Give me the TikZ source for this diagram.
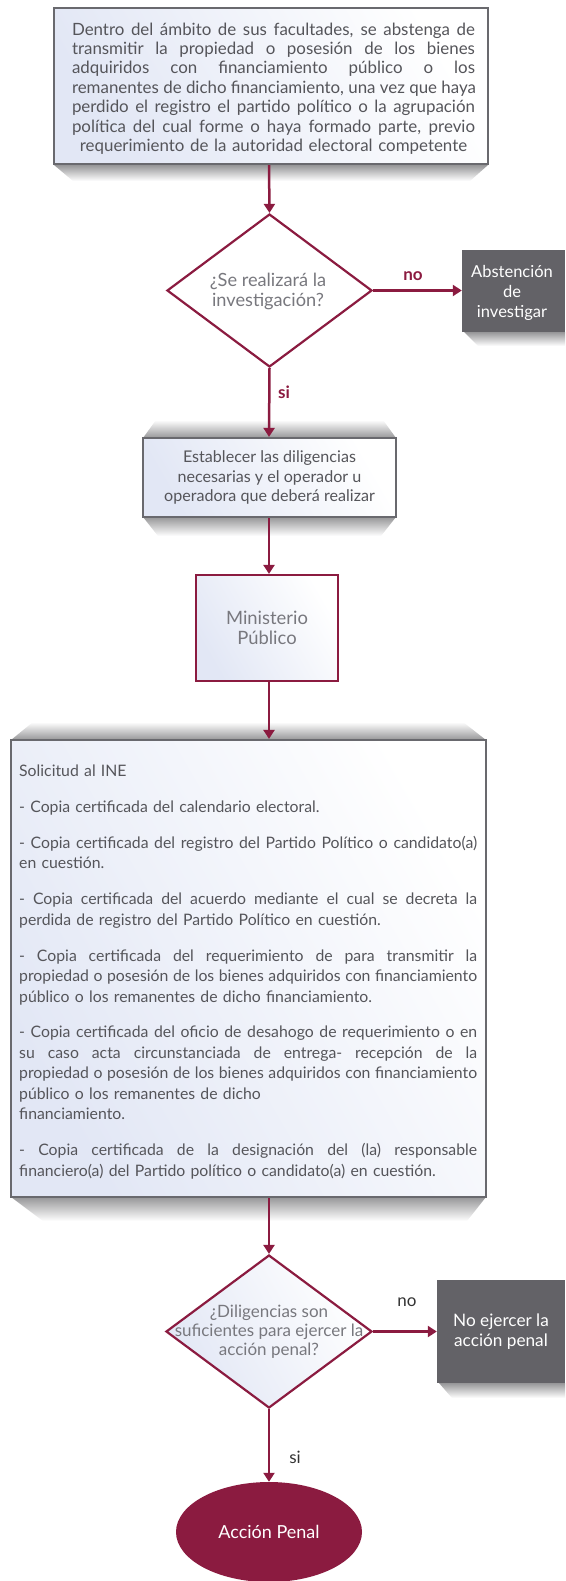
\documentclass[tikz,border=0pt]{standalone}
\usepackage{fontspec}
\setmainfont{Lato}
\usetikzlibrary{shapes.geometric,arrows.meta}
\definecolor{inemaroon}{RGB}{139,27,64}
\definecolor{boxgray}{RGB}{105,105,110}
\definecolor{darkfill}{RGB}{99,98,103}
\definecolor{lightfill}{RGB}{226,231,245}
\definecolor{txtgray}{RGB}{85,85,90}
\definecolor{lighttxt}{RGB}{120,120,126}
\definecolor{shadowgray}{RGB}{150,150,152}
\newcommand\jline[2]{\leavevmode\hbox to #1{\spaceskip=\fontdimen2\font plus 1fill\relax #2}}
\begin{document}
\begin{tikzpicture}[x=1pt,y=-1pt,
  gradfill/.style={shading=axis, left color=lightfill, right color=white, shading angle=120},
  graybox/.style={rectangle, draw=boxgray, line width=2.2pt, gradfill, inner sep=0pt, text=txtgray},
  maroonbox/.style={rectangle, draw=inemaroon, line width=2.2pt, gradfill, inner sep=0pt, text=lighttxt},
  darkbox/.style={rectangle, fill=darkfill, inner sep=0pt, text=white, align=center},
  decision/.style={diamond, draw=inemaroon, line width=2.2pt, inner sep=0pt},
  dtext/.style={text=lighttxt, align=center, inner sep=0pt},
  arr/.style={draw=inemaroon, line width=2.5pt, -{Triangle[width=11pt,length=9pt]}},
  shadowdown/.style={top color=shadowgray, bottom color=white},
  shadowup/.style={top color=white, bottom color=shadowgray},
  lbl/.style={inner sep=0pt, font=\fontsize{17}{19}\selectfont}
]
\useasboundingbox (0,0) rectangle (565,1581);
\coordinate (axis) at (269,0);

% shadows
\shade[shadowdown] (54,165) -- (488,165) -- (470,181) -- (73,181) -- cycle;
\shade[shadowup] (156,420) -- (383,420) -- (396,438) -- (143,438) -- cycle;
\shade[shadowdown] (143,517) -- (396,517) -- (381,536) -- (158,536) -- cycle;
\shade[shadowdown] (464,332) -- (565,332) -- (565,346) -- (478,346) -- cycle;
\shade[shadowup] (33,722) -- (463,722) -- (486,740) -- (11,740) -- cycle;
\shade[shadowdown] (11,1197) -- (486,1197) -- (467,1221) -- (43,1221) -- cycle;
\shade[shadowdown] (439,1383) -- (565,1383) -- (565,1398) -- (452,1398) -- cycle;

% top box
\node[graybox, minimum width=434pt, minimum height=156pt] (top) at (271,86) {};
\node[inner sep=0pt, text=txtgray, font=\fontsize{16.9}{19.4}\selectfont,
      text width=403pt, align=center] (topt) at (273.5,88.5) {%
  \jline{403pt}{Dentro del ámbito de sus facultades, se abstenga de}\\
  \jline{403pt}{transmitir la propiedad o posesión de los bienes}\\
  \jline{403pt}{adquiridos con financiamiento público o los}\\
  \jline{403pt}{remanentes de dicho financiamiento, una vez que haya}\\
  \jline{403pt}{perdido el registro el partido político o la agrupación}\\
  \jline{403pt}{política del cual forme o haya formado parte, previo}\\
  requerimiento de la autoridad electoral competente};

% decision 1
\node[decision, fill=white, minimum width=205pt, minimum height=153pt] (d1) at (269.5,290.5) {};
\node[dtext, font=\fontsize{18.2}{20}\selectfont] (d1t) at (268,291) {¿Se realizará la\\investigación?};

% abstencion
\node[darkbox, minimum width=103pt, minimum height=82pt] (abs) at (513.5,291) {};
\node[inner sep=0pt, text=white, align=center, font=\fontsize{16.5}{20}\selectfont] (abst) at (512,293) {Abstención\\de\\investigar};

% establecer
\node[graybox, minimum width=253pt, minimum height=79pt, align=center,
      font=\fontsize{16.1}{19.5}\selectfont] (est) at (269.5,477.5)
  {Establecer las diligencias\\necesarias y el operador u\\operadora que deberá realizar};

% ministerio
\node[maroonbox, minimum width=142pt, minimum height=106pt, align=center,
      font=\fontsize{18.4}{20}\selectfont] (mp) at (267,628) {Ministerio\\Público};

% solicitud
\node[graybox, minimum width=475pt, minimum height=457pt] (sol) at (248.5,968.5) {};
\node[anchor=north west, inner sep=0pt, text width=458pt, align=left, text=txtgray,
      font=\fontsize{15.8}{20.5}\selectfont] (solt) at (19,765) {%
  Solicitud al INE\\[15.3pt]
  - Copia certificada del calendario electoral.\\[15.3pt]
  \jline{458pt}{- Copia certificada del registro del Partido Político o candidato(a)}\\
  en cuestión.\\[15.3pt]
  \jline{458pt}{- Copia certificada del acuerdo mediante el cual se decreta la}\\
  perdida de registro del Partido Político en cuestión.\\[15.3pt]
  \jline{458pt}{- Copia certificada del requerimiento de para transmitir la}\\
  \jline{458pt}{propiedad o posesión de los bienes adquiridos con financiamiento}\\
  público o los remanentes de dicho financiamiento.\\[15.3pt]
  \jline{458pt}{- Copia certificada del oficio de desahogo de requerimiento o en}\\
  \jline{458pt}{su caso acta circunstanciada de entrega- recepción de la}\\
  \jline{458pt}{propiedad o posesión de los bienes adquiridos con financiamiento}\\
  público o los remanentes de dicho\\
  financiamiento.\\[15.3pt]
  \jline{458pt}{- Copia certificada de la designación del (la) responsable}\\
  financiero(a) del Partido político o candidato(a) en cuestión.};

% decision 2
\node[decision, gradfill, minimum width=206pt, minimum height=153pt] (d2) at (269,1331.5) {};
\node[dtext, font=\fontsize{17}{19}\selectfont] (d2t) at (269,1332) {¿Diligencias son\\suficientes para ejercer la\\acción penal?};

% no ejercer
\node[darkbox, minimum width=128pt, minimum height=103pt, font=\fontsize{17.2}{19.5}\selectfont] (noe) at (501,1331.5) {No ejercer la\\acción penal};

% accion penal
\node[ellipse, fill=inemaroon, minimum width=186pt, minimum height=100pt, inner sep=0pt,
      text=white, font=\fontsize{18}{20}\selectfont] (ap) at (269,1532) {Acción Penal};

% connectors
\draw[arr] (top.south -| axis) -- (d1.north);
\draw[arr] (d1.east) -- (abs.west |- d1.east);
\draw[arr] (d1.south) -- (est.north -| axis);
\draw[arr] (est.south -| axis) -- (mp.north -| axis);
\draw[arr] (mp.south -| axis) -- (sol.north -| axis);
\draw[arr] (sol.south -| axis) -- (d2.north);
\draw[arr] (d2.east) -- (noe.west |- d2.east);
\draw[arr] (d2.south) -- (ap.north);

% labels
\node[lbl, text=inemaroon, font=\fontsize{17}{19}\bfseries] (lno1) at (413,276) {no};
\node[lbl, text=inemaroon, font=\fontsize{17}{19}\bfseries] (lsi1) at (284,392) {si};
\node[lbl, text=black!80] (lno2) at (407,1302) {no};
\node[lbl, text=black!80] (lsi2) at (295,1457) {si};
\end{tikzpicture}
\end{document}
